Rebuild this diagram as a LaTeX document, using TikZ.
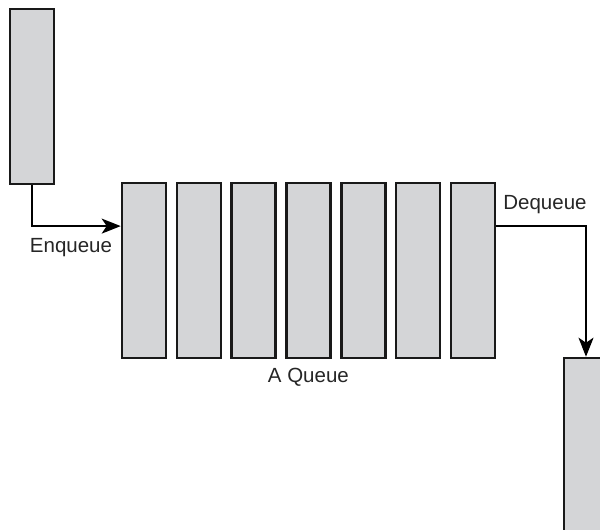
\documentclass[tikz,border=0pt]{standalone}
\usepackage{fontspec}
\setmainfont{Liberation Sans}
\usetikzlibrary{arrows.meta, calc, positioning}

\definecolor{cellgray}{HTML}{D4D5D7}
\tikzset{
  cell/.style={draw=black!90, fill=cellgray, line width=2.6pt, minimum width=44pt, minimum height=175pt, inner sep=0pt},
  flow/.style={line width=2pt, -{Stealth[length=19pt, width=15pt, inset=5pt]}},
  lbl/.style={font=\fontsize{20.5}{24}\selectfont, text=black!85}
}

\begin{document}
\begin{tikzpicture}[x=1pt, y=-1pt]
	\clip (0,0) rectangle (600,530);
	\useasboundingbox (0,0) rectangle (600,530);
	% incoming item and the queue cells
	\node(in)  [cell] at (32,96.5) {};
	\foreach \i in {1,...,7}
		\node(c\i) [cell] at ({144+(\i-1)*54.8},270.5) {};
	\node(out) [cell] at (586,445.5) {};
	
	\coordinate(enq) at ($(c1.north west)!0.25!(c1.south west)$);
	\coordinate(deq) at ($(c7.north east)!0.25!(c7.south east)$);
	\draw[flow] (in.south) |- (enq);
	\draw[flow] (deq) -| (out.north);
	
	\node(enqlbl) [lbl] at (71,248) {Enqueue};
	\node(deqlbl) [lbl] at (545,205) {Dequeue};
	\node(qlbl) [lbl, below=5pt of c4] {A Queue};
\end{tikzpicture}
\end{document}
